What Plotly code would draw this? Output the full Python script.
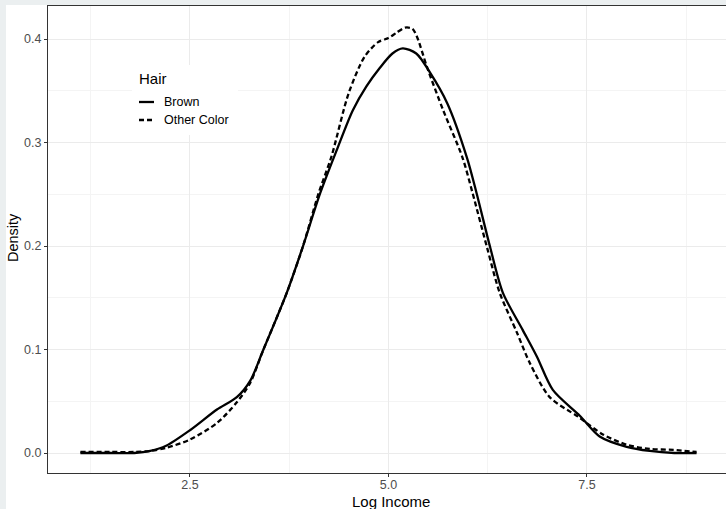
import plotly.graph_objects as go

# ---- data ----
brown_x = [1.12, 1.5, 1.8, 2.0, 2.2, 2.5, 2.84, 3.09, 3.26, 3.42, 3.72, 3.92, 4.14, 4.35, 4.55, 4.72,
           4.89, 5.05, 5.18, 5.35, 5.52, 5.74, 5.99, 6.11, 6.28, 6.44, 6.69, 6.87, 7.07, 7.41, 7.66,
           8.0, 8.29, 8.6, 8.88]
brown_y = [0.000, 0.000, 0.000, 0.002, 0.007, 0.022, 0.042, 0.054, 0.070, 0.099, 0.155, 0.199, 0.251,
           0.293, 0.331, 0.354, 0.372, 0.386, 0.391, 0.386, 0.368, 0.338, 0.285, 0.251, 0.199, 0.155,
           0.119, 0.093, 0.061, 0.036, 0.016, 0.006, 0.002, 0.000, 0.000]

other_x = [1.12, 1.5, 1.8, 2.0, 2.2, 2.5, 2.84, 3.09, 3.26, 3.42, 3.72, 3.92, 4.12, 4.28, 4.5, 4.70,
           4.87, 5.0, 5.1, 5.21, 5.3, 5.36, 5.485, 5.69, 5.93, 6.06, 6.24, 6.40, 6.62, 6.78, 7.03,
           7.39, 7.7, 8.0, 8.29, 8.59, 8.88]
other_y = [0.001, 0.001, 0.001, 0.002, 0.005, 0.013, 0.029, 0.049, 0.068, 0.099, 0.155, 0.199, 0.251,
           0.286, 0.348, 0.383, 0.397, 0.401, 0.406, 0.411, 0.410, 0.402, 0.373, 0.331, 0.286, 0.251,
           0.199, 0.155, 0.116, 0.087, 0.054, 0.035, 0.018, 0.008, 0.004, 0.003, 0.001]

series_names = ["Brown", "Other Color"]
legend_title = "Hair"
x_title = "Log Income"
y_title = "Density"
x_ticks = [2.5, 5.0, 7.5]
x_ticklabels = ["2.5", "5.0", "7.5"]
y_ticks = [0.0, 0.1, 0.2, 0.3, 0.4]
y_ticklabels = ["0.0", "0.1", "0.2", "0.3", "0.4"]

# ---- layout geometry (pixels) ----
W, H = 726, 509
ML, MT, MB, MR = 48, 6, 36, 0
PW = W - ML - MR
PH = H - MT - MB


def px(xp):
    return (xp - ML) / PW


def py(yp):
    return (H - MB - yp) / PH


FONT = "Liberation Sans, Arial, sans-serif"

fig = go.Figure()
fig.add_trace(go.Scatter(x=brown_x, y=brown_y, mode="lines", name=series_names[0],
                         line=dict(color="black", width=2.3, shape="spline", smoothing=0.8),
                         showlegend=False))
fig.add_trace(go.Scatter(x=other_x, y=other_y, mode="lines", name=series_names[1],
                         line=dict(color="black", width=2.3, dash="5px,3px", shape="spline",
                                   smoothing=0.8),
                         showlegend=False))

shapes = [
    # white plot background region (ggplot-style canvas inside grey page)
    dict(type="rect", xref="paper", yref="paper", layer="below",
         x0=px(6), x1=px(W + 10), y0=py(H + 10), y1=py(5),
         fillcolor="white", line=dict(width=0)),
    # legend background
    dict(type="rect", xref="paper", yref="paper", layer="above",
         x0=px(132), x1=px(238), y0=py(135), y1=py(65),
         fillcolor="white", line=dict(width=0)),
    dict(type="line", xref="paper", yref="paper", layer="above",
         x0=px(139), x1=px(154), y0=py(102), y1=py(102),
         line=dict(color="black", width=2.3)),
    dict(type="line", xref="paper", yref="paper", layer="above",
         x0=px(139), x1=px(155), y0=py(120), y1=py(120),
         line=dict(color="black", width=2.3, dash="5px,3px")),
]

annotations = [
    dict(text=legend_title, xref="paper", yref="paper", x=px(137), y=py(78),
         xanchor="left", yanchor="middle", showarrow=False,
         font=dict(family=FONT, size=15, color="black")),
    dict(text=series_names[0], xref="paper", yref="paper", x=px(162), y=py(102),
         xanchor="left", yanchor="middle", showarrow=False,
         font=dict(family=FONT, size=12.5, color="black")),
    dict(text=series_names[1], xref="paper", yref="paper", x=px(162), y=py(120),
         xanchor="left", yanchor="middle", showarrow=False,
         font=dict(family=FONT, size=12.5, color="black")),
    dict(text=x_title, xref="paper", yref="paper", x=px(391), y=py(501),
         xanchor="center", yanchor="middle", showarrow=False,
         font=dict(family=FONT, size=15, color="black")),
    dict(text=y_title, xref="paper", yref="paper", x=px(13), y=py(238),
         xanchor="center", yanchor="middle", showarrow=False, textangle=-90,
         font=dict(family=FONT, size=14.5, color="black")),
]

fig.update_layout(
    width=W, height=H,
    margin=dict(l=ML, r=MR, t=MT, b=MB, pad=0),
    paper_bgcolor="#ebeff0",
    plot_bgcolor="rgba(0,0,0,0)",
    showlegend=False,
    shapes=shapes,
    annotations=annotations,
    font=dict(family=FONT),
)

x_range = [0.712, 0.712 + PW / 79.4]
y_range = [-0.0193, -0.0193 + PH / 1035.0]

fig.update_xaxes(
    range=x_range, tickmode="array", tickvals=x_ticks, ticktext=x_ticklabels,
    showgrid=True, gridcolor="#ebebeb", gridwidth=1.1,
    minor=dict(tickmode="array", tickvals=[1.25, 3.75, 6.25, 8.75], showgrid=True,
               gridcolor="#f4f4f4", gridwidth=0.6, ticks=""),
    showline=True, linecolor="#333333", linewidth=1.1, mirror=True,
    ticks="outside", ticklen=3, tickcolor="#333333", tickwidth=1.1,
    tickfont=dict(family=FONT, size=12.5, color="#4d4d4d"),
    ticklabelstandoff=-3,
    zeroline=False,
)
fig.update_yaxes(
    range=y_range, tickmode="array", tickvals=y_ticks, ticktext=y_ticklabels,
    showgrid=True, gridcolor="#ebebeb", gridwidth=1.1,
    minor=dict(tickmode="array", tickvals=[0.05, 0.15, 0.25, 0.35, 0.45], showgrid=True,
               gridcolor="#f4f4f4", gridwidth=0.6, ticks=""),
    showline=True, linecolor="#333333", linewidth=1.1, mirror=True,
    ticks="outside", ticklen=3, tickcolor="#333333", tickwidth=1.1,
    tickfont=dict(family=FONT, size=12.5, color="#4d4d4d"),
    zeroline=False,
)

fig.write_html(
    "out.html",
    config={"displayModeBar": False},
    post_script="document.body.style.margin='0';document.body.style.overflow='hidden';",
)
